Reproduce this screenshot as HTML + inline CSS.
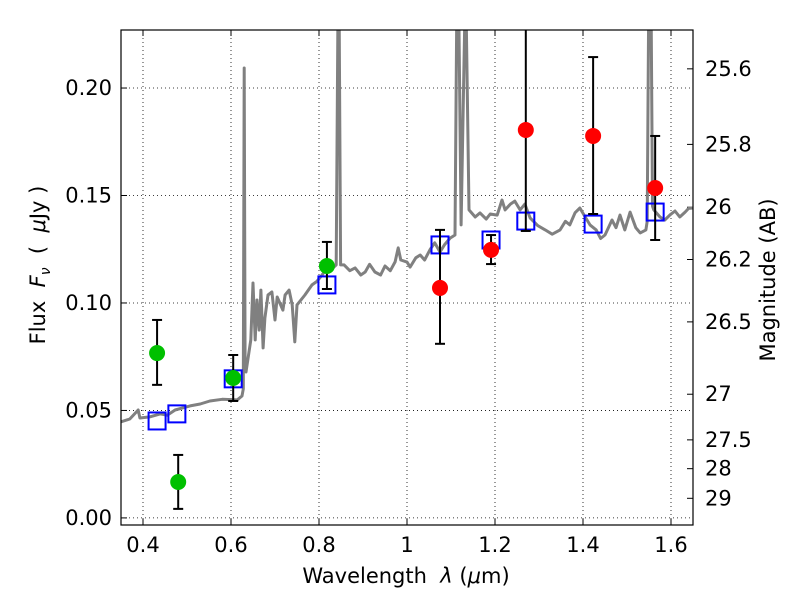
<!DOCTYPE html>
<html><head><meta charset="utf-8"><style>
body{margin:0;background:#fff}
svg{display:block;font-family:"DejaVu Sans","Liberation Sans",sans-serif}
</style></head><body>
<svg id="c" width="800" height="600" xmlns="http://www.w3.org/2000/svg"></svg>
<script>
const specWl=[0.350,0.370,0.389,0.393,0.415,0.439,0.455,0.473,0.490,0.507,0.530,0.552,0.580,0.614,0.625,0.628,0.630,0.632,0.634,0.645,0.650,0.655,0.659,0.664,0.668,0.673,0.677,0.684,0.693,0.700,0.705,0.718,0.723,0.732,0.739,0.745,0.750,0.768,0.784,0.795,0.807,0.818,0.830,0.839,0.843,0.846,0.849,0.857,0.870,0.882,0.895,0.905,0.915,0.927,0.940,0.950,0.962,0.973,0.980,0.986,1.000,1.007,1.020,1.030,1.040,1.052,1.063,1.075,1.085,1.098,1.109,1.113,1.118,1.123,1.131,1.135,1.141,1.155,1.166,1.180,1.189,1.205,1.216,1.223,1.235,1.245,1.257,1.268,1.280,1.297,1.314,1.330,1.348,1.360,1.370,1.382,1.393,1.405,1.416,1.430,1.440,1.450,1.466,1.475,1.484,1.495,1.507,1.520,1.530,1.543,1.546,1.549,1.555,1.558,1.561,1.575,1.586,1.598,1.609,1.620,1.632,1.640,1.650];
const specFlux=[0.0447,0.0460,0.0502,0.0465,0.0470,0.0484,0.0478,0.0502,0.0512,0.0521,0.0530,0.0544,0.0552,0.0549,0.0567,0.0600,0.2093,0.0700,0.0679,0.0828,0.1093,0.0828,0.1014,0.0874,0.1060,0.0791,0.0930,0.1037,0.1051,0.0921,0.1028,0.0967,0.1037,0.1060,0.0991,0.0819,0.0991,0.1037,0.1084,0.1100,0.1130,0.1163,0.1160,0.1177,0.2316,0.2316,0.1177,0.1177,0.1150,0.1163,0.1130,0.1144,0.1180,0.1144,0.1130,0.1172,0.1150,0.1191,0.1256,0.1200,0.1190,0.1167,0.1210,0.1223,0.1200,0.1247,0.1280,0.1237,0.1270,0.1302,0.1316,0.2316,0.2316,0.1363,0.2270,0.2270,0.1433,0.1400,0.1419,0.1390,0.1414,0.1409,0.1479,0.1433,0.1460,0.1474,0.1433,0.1460,0.1395,0.1360,0.1340,0.1320,0.1340,0.1380,0.1363,0.1420,0.1442,0.1400,0.1363,0.1340,0.1300,0.1316,0.1386,0.1350,0.1409,0.1340,0.1423,0.1350,0.1326,0.1340,0.1380,0.2316,0.2316,0.1450,0.1433,0.1400,0.1386,0.1410,0.1428,0.1400,0.1423,0.1440,0.1442];
const greenWl=[0.432,0.480,0.605,0.818];
const greenFlux=[0.0767,0.0167,0.0651,0.1172];
const greenHi=[0.0921,0.0293,0.0758,0.1284];
const greenLo=[0.0619,0.0042,0.0544,0.1065];
const redWl=[1.075,1.191,1.270,1.423,1.564];
const redFlux=[0.107,0.1247,0.1805,0.1777,0.1535];
const redHi=[0.134,0.1316,0.27,0.2144,0.1777];
const redLo=[0.081,0.1181,0.1335,0.1414,0.1293];
const modelWl=[0.432,0.477,0.605,0.818,1.075,1.191,1.270,1.423,1.564];
const modelFlux=[0.0451,0.0484,0.0647,0.1084,0.127,0.1293,0.1381,0.1367,0.1423];
const xTicks=[0.4,0.6,0.8,1.0,1.2,1.4,1.6];
const xTickLabels=["0.4","0.6","0.8","1","1.2","1.4","1.6"];
const yTicks=[0,0.05,0.1,0.15,0.2];
const yTickLabels=["0.00","0.05","0.10","0.15","0.20"];
const magTicks=[25.6,25.8,26,26.2,26.5,27,27.5,28,29];
const magTickLabels=["25.6","25.8","26","26.2","26.5","27","27.5","28","29"];

const L=121,R=693,T=30,B=525,X0=0.35,X1=1.65,Y0=-0.0033,Y1=0.2270;
const sx=v=>L+(v-X0)/(X1-X0)*(R-L);
const sy=v=>B-(v-Y0)/(Y1-Y0)*(B-T);
const svg=document.getElementById('c');
const NS='http://www.w3.org/2000/svg';
function mk(tag,attrs,parent){const e=document.createElementNS(NS,tag);for(const k in attrs)e.setAttribute(k,attrs[k]);(parent||svg).appendChild(e);return e;}

const defs=mk('defs',{});
const cp=mk('clipPath',{id:'clip'},defs);
mk('rect',{x:L,y:T,width:R-L,height:B-T},cp);

xTicks.forEach((t,i)=>{
 const g=mk('line',{x1:sx(t),x2:sx(t),y1:T,y2:B,stroke:'#000','stroke-width':0.8,'stroke-dasharray':'1,3'});
 
 
 mk('line',{x1:sx(t),x2:sx(t),y1:B,y2:B-6,stroke:'#000'});
 mk('line',{x1:sx(t),x2:sx(t),y1:T,y2:T+6,stroke:'#000'});
 const tx=mk('text',{x:sx(t),y:B+27,'text-anchor':'middle','font-size':21});
 tx.textContent=xTickLabels[i];
 
 
});
yTicks.forEach((t,i)=>{
 const g=mk('line',{x1:L,x2:R,y1:sy(t),y2:sy(t),stroke:'#000','stroke-width':0.8,'stroke-dasharray':'1,3'});
 
 
 mk('line',{x1:L,x2:L+6,y1:sy(t),y2:sy(t),stroke:'#000'});
 const tx=mk('text',{x:L-9,y:sy(t)+7,'text-anchor':'end','font-size':21});
 tx.textContent=yTickLabels[i];
 
 
});
magTicks.forEach((m,i)=>{
 const f=Math.pow(10,(23.9-m)/2.5);
 mk('line',{x1:R,x2:R-6,y1:sy(f),y2:sy(f),stroke:'#000'});
 const tx=mk('text',{x:R+12,y:sy(f)+7,'font-size':21});
 tx.textContent=magTickLabels[i];
 
 
});

const pts=specWl.map((w,i)=>sx(w).toFixed(1)+','+sy(specFlux[i]).toFixed(1)).join(' ');
const sp=mk('polyline',{points:pts,fill:'none',stroke:'#808080','stroke-width':3,'clip-path':'url(#clip)','stroke-linejoin':'round'});



modelWl.forEach((w,i)=>{
 const r=mk('rect',{x:sx(w)-8.5,y:sy(modelFlux[i])-8.5,width:17,height:17,fill:'none',stroke:'#0000ff','stroke-width':2});
 
 
});

function errbars(wl,fl,hi,lo,color,name){
 wl.forEach((w,i)=>{
  const x=sx(w);
  const g=mk('g',{'clip-path':'url(#clip)'});
  mk('line',{x1:x,x2:x,y1:sy(hi[i]),y2:sy(lo[i]),stroke:'#000','stroke-width':2},g);
  mk('line',{x1:x-5,x2:x+5,y1:sy(hi[i]),y2:sy(hi[i]),stroke:'#000','stroke-width':2},g);
  mk('line',{x1:x-5,x2:x+5,y1:sy(lo[i]),y2:sy(lo[i]),stroke:'#000','stroke-width':2},g);
  const c=mk('circle',{cx:x,cy:sy(fl[i]),r:8,fill:color});
  
  
 });
}
errbars(greenWl,greenFlux,greenHi,greenLo,'#00c000','optical-data-point');
errbars(redWl,redFlux,redHi,redLo,'#ff0000','nir-data-point');

const fr=mk('rect',{x:L,y:T,width:R-L,height:B-T,fill:'none',stroke:'#000','stroke-width':1.2});



const xl=mk('text',{x:406,y:583,'text-anchor':'middle','font-size':21,'xml:space':'preserve'});
xl.innerHTML='Wavelength\u00a0\u00a0<tspan font-style="italic">λ</tspan> (<tspan font-style="italic">μ</tspan>m)';


const yl=mk('text',{x:0,y:0,'text-anchor':'middle','font-size':21,transform:'translate(45,265) rotate(-90)'});
yl.innerHTML='Flux\u00a0\u00a0<tspan font-style="italic">F</tspan><tspan font-style="italic" font-size="14" dy="5">ν</tspan><tspan dy="-5">\u00a0\u00a0(\u00a0\u00a0</tspan><tspan font-style="italic">μ</tspan>Jy )';


const ml=mk('text',{x:0,y:0,'text-anchor':'middle','font-size':21,transform:'translate(775,280) rotate(-90)'});
ml.textContent='Magnitude (AB)';


</script>
</body></html>
